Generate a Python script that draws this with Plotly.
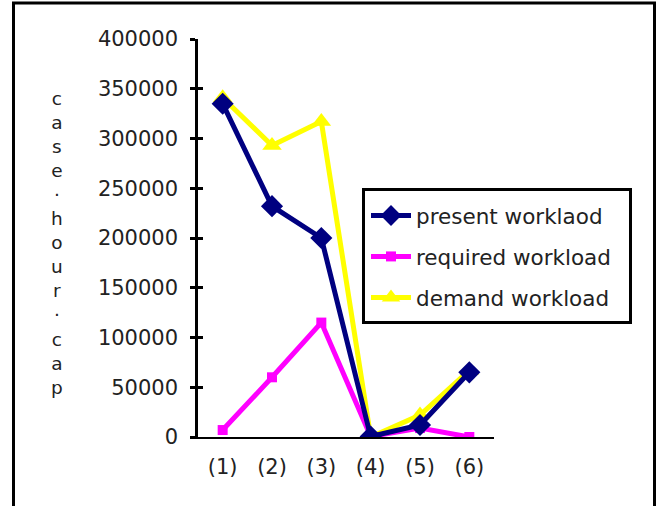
import plotly.graph_objects as go

categories = ["(1)", "(2)", "(3)", "(4)", "(5)", "(6)"]
present_workload = [335000, 232000, 200000, 500, 12000, 65000]
required_workload = [7000, 60000, 115000, 500, 9000, 0]
demand_workload = [341000, 293000, 317000, 0, 22000, 67000]
y_ticks = [0, 50000, 100000, 150000, 200000, 250000, 300000, 350000, 400000]
y_title = "case·hour·cap"

W, H = 659, 506
L, R, T, B = 198, 165, 39, 69
pw = W - L - R
ph = H - T - B


def px(x):
    return (x - L) / pw


def py(y):
    return (H - B - y) / ph


FONT = "DejaVu Sans"
TXT = "#222222"
xs = list(range(len(categories)))

fig = go.Figure()
fig.add_trace(go.Scatter(x=xs, y=demand_workload, name="demand workload",
                         mode="lines+markers", legendgroup="c", legendrank=3,
                         line=dict(color="#FFFF00", width=5),
                         marker=dict(symbol="triangle-up", size=17, color="#FFFF00")))
fig.add_trace(go.Scatter(x=xs, y=required_workload, name="required workload",
                         mode="lines+markers", legendgroup="b", legendrank=2,
                         line=dict(color="#FF00FF", width=5),
                         marker=dict(symbol="square", size=10, color="#FF00FF")))
fig.add_trace(go.Scatter(x=xs, y=present_workload, name="present worklaod",
                         mode="lines+markers", legendgroup="a", legendrank=1,
                         line=dict(color="#000080", width=5),
                         marker=dict(symbol="diamond", size=17, color="#000080")))
fig.add_trace(go.Scatter(x=[None], y=[None], yaxis="y2", showlegend=False, hoverinfo="skip"))

fig.update_layout(
    width=W, height=H,
    margin=dict(l=L, r=R, t=T, b=B),
    paper_bgcolor="white", plot_bgcolor="white",
    font=dict(family=FONT, size=21, color=TXT),
    showlegend=True,
    legend=dict(x=px(366), y=py(195), xanchor="left", yanchor="top",
                borderwidth=0, bgcolor="rgba(0,0,0,0)",
                font=dict(family=FONT, size=21.5, color=TXT),
                traceorder="grouped", tracegroupgap=10, itemwidth=40),
    xaxis=dict(range=[-0.5, 5.5], tickmode="array", tickvals=xs, ticktext=categories,
               showgrid=False, zeroline=False, showline=True, linecolor="black",
               linewidth=2, ticks="", ticklabelstandoff=10,
               tickfont=dict(family=FONT, size=21, color=TXT)),
    yaxis=dict(range=[0, 400000], tickmode="array", tickvals=y_ticks,
               ticktext=[str(v) for v in y_ticks],
               showgrid=False, zeroline=False, showline=True, linecolor="black",
               linewidth=2.5, ticks="outside", ticklen=5, tickwidth=2.5, tickcolor="black",
               ticklabelstandoff=8,
               tickfont=dict(family=FONT, size=21, color=TXT)),
    yaxis2=dict(range=[0, 400000], overlaying="y", side="left", tickmode="array",
                tickvals=y_ticks, showticklabels=False, showgrid=False, zeroline=False,
                showline=False, ticks="inside", ticklen=5, tickwidth=2.5, tickcolor="black"),
)

fig.add_annotation(text="<br>".join(list(y_title)), xref="paper", yref="paper",
                   x=px(57), y=py(243), xanchor="center", yanchor="middle",
                   showarrow=False, font=dict(family=FONT, size=18.5, color=TXT))

# outer frame
fig.add_shape(type="rect", xref="paper", yref="paper",
              x0=px(13.5), x1=px(654.5), y0=py(560), y1=py(3),
              line=dict(color="black", width=3), layer="above")
# legend frame
fig.add_shape(type="rect", xref="paper", yref="paper",
              x0=px(363.5), x1=px(630.5), y0=py(322.5), y1=py(189.5),
              line=dict(color="black", width=3), layer="below")

fig.write_html("out.html", config={"displayModeBar": False},
               post_script="document.body.style.margin='0';")
